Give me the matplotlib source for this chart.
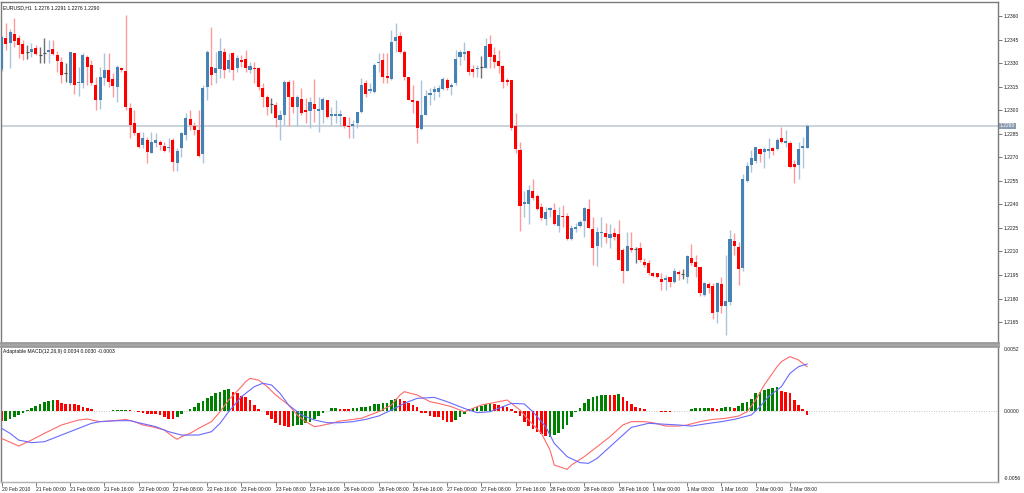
import numpy as np
import matplotlib
matplotlib.use("Agg")
import matplotlib.pyplot as plt

plt.rcParams['font.family'] = ['Liberation Sans', 'DejaVu Sans']

# ---------------- data (EURUSD H1) ----------------
opens = [1.23260,1.23458,1.23426,1.23485,1.23458,1.23422,1.23370,1.23373,1.23398,1.23353,
         1.23362,1.23369,1.23390,1.23352,1.23309,1.23239,1.23171,1.23362,1.23171,1.23171,
         1.23337,1.23288,1.23160,1.23065,1.23203,1.23256,1.23199,1.23147,1.23267,1.23250,
         1.23012,1.22920,1.22853,1.22778,1.22810,1.22730,1.22789,1.22800,1.22774,1.22757,
         1.22810,1.22662,1.22757,1.22842,1.22944,1.22896,1.22874,1.22721,1.23146,1.23277,
         1.23235,1.23262,1.23369,1.23262,1.23362,1.23267,1.23320,1.23324,1.23256,1.23271,
         1.23267,1.23139,1.23086,1.23037,1.23033,1.22937,1.22969,1.23182,1.23086,1.23022,
         1.23071,1.23001,1.22997,1.23040,1.22997,1.23001,1.23065,1.22963,1.22963,1.22963,
         1.22955,1.22901,1.22897,1.22919,1.22990,1.23171,1.23122,1.23118,1.23299,1.23320,
         1.23218,1.23197,1.23443,1.23475,1.23373,1.23210,1.23063,1.23060,1.22878,1.22969,
         1.23097,1.23118,1.23118,1.23133,1.23192,1.23150,1.23171,1.23337,1.23358,1.23379,
         1.23260,1.23260,1.23277,1.23267,1.23422,1.23352,1.23313,1.23281,1.23192,1.23192,
         1.22899,1.22746,1.22402,1.22402,1.22485,1.22453,1.22385,1.22305,1.22364,1.22364,
         1.22262,1.22328,1.22326,1.22178,1.22243,1.22264,1.22296,1.22368,1.22243,1.22135,
         1.22216,1.22216,1.22188,1.22216,1.22210,1.22109,1.21978,1.22124,1.22116,1.22124,
         1.22035,1.22029,1.21961,1.21961,1.21925,1.21918,1.21935,1.21908,1.21967,1.21955,
         1.21939,1.22056,1.22035,1.21999,1.21823,1.21893,1.21880,1.21716,1.21893,1.21753,
         1.21781,1.22167,1.22127,1.21993,1.22551,1.22651,1.22676,1.22753,1.22732,1.22742,
         1.22761,1.22753,1.22821,1.22790,1.22793,1.22655,1.22651,1.22761,1.22760]
highs = [1.23470,1.23557,1.23515,1.23585,1.23479,1.23447,1.23415,1.23426,1.23415,1.23404,
         1.23458,1.23447,1.23447,1.23377,1.23341,1.23299,1.23373,1.23366,1.23277,1.23362,
         1.23352,1.23320,1.23209,1.23277,1.23366,1.23362,1.23235,1.23288,1.23277,1.23606,
         1.23044,1.23001,1.22863,1.22863,1.22831,1.22863,1.22853,1.22810,1.22800,1.22820,
         1.22820,1.22757,1.22863,1.22980,1.23001,1.22927,1.23001,1.23160,1.23383,1.23532,
         1.23373,1.23458,1.23394,1.23362,1.23373,1.23352,1.23352,1.23383,1.23309,1.23309,
         1.23277,1.23171,1.23097,1.23076,1.23054,1.23001,1.23192,1.23192,1.23192,1.23097,
         1.23141,1.23076,1.23086,1.23199,1.23086,1.23086,1.23065,1.23022,1.23065,1.23001,
         1.22959,1.22959,1.22937,1.22990,1.23203,1.23192,1.23171,1.23299,1.23362,1.23362,
         1.23362,1.23511,1.23557,1.23500,1.23383,1.23213,1.23160,1.23065,1.23192,1.23129,
         1.23140,1.23154,1.23160,1.23210,1.23203,1.23171,1.23383,1.23383,1.23436,1.23379,
         1.23288,1.23288,1.23347,1.23458,1.23479,1.23404,1.23383,1.23288,1.23203,1.23192,
         1.22980,1.22800,1.22487,1.22523,1.22561,1.22464,1.22407,1.22385,1.22381,1.22407,
         1.22385,1.22396,1.22343,1.22269,1.22280,1.22300,1.22385,1.22434,1.22318,1.22258,
         1.22318,1.22280,1.22275,1.22248,1.22300,1.22120,1.22226,1.22226,1.22130,1.22163,
         1.22056,1.22046,1.21971,1.21965,1.21961,1.21950,1.21940,1.21993,1.21982,1.21986,
         1.22077,1.22148,1.22077,1.22003,1.21907,1.21907,1.21901,1.21907,1.21940,1.22077,
         1.22237,1.22216,1.22163,1.22593,1.22672,1.22746,1.22768,1.22757,1.22768,1.22821,
         1.22768,1.22821,1.22891,1.22874,1.22806,1.22683,1.22800,1.22831,1.22910]
lows = [1.23250,1.23383,1.23267,1.23404,1.23332,1.23320,1.23326,1.23341,1.23352,1.23299,
        1.23299,1.23299,1.23352,1.23245,1.23171,1.23182,1.23160,1.23101,1.23090,1.23140,
        1.23160,1.23160,1.23001,1.23005,1.23160,1.23146,1.23086,1.23054,1.23245,1.23001,
        1.22820,1.22842,1.22757,1.22757,1.22662,1.22725,1.22767,1.22746,1.22736,1.22736,
        1.22615,1.22615,1.22704,1.22810,1.22874,1.22842,1.22704,1.22662,1.23065,1.23160,
        1.23171,1.23203,1.23203,1.23245,1.23192,1.23245,1.23277,1.23245,1.23235,1.23171,
        1.23129,1.23022,1.22969,1.22980,1.22891,1.22810,1.22906,1.22900,1.22980,1.22900,
        1.22969,1.22919,1.22885,1.22927,1.22863,1.22919,1.22948,1.22906,1.22919,1.22900,
        1.22885,1.22820,1.22820,1.22885,1.22980,1.23086,1.23108,1.23108,1.23245,1.23171,
        1.23171,1.23192,1.23373,1.23362,1.23192,1.23065,1.22980,1.22789,1.22874,1.22969,
        1.23033,1.23065,1.23086,1.23129,1.23129,1.23097,1.23160,1.23288,1.23320,1.23224,
        1.23213,1.23213,1.23203,1.23267,1.23267,1.23267,1.23235,1.23140,1.23160,1.22874,
        1.22725,1.22233,1.22321,1.22275,1.22428,1.22364,1.22300,1.22269,1.22321,1.22269,
        1.22226,1.22258,1.22173,1.22173,1.22226,1.22258,1.22194,1.22248,1.22014,1.22008,
        1.22131,1.22152,1.22120,1.22173,1.22046,1.21897,1.21978,1.22099,1.22025,1.22035,
        1.22003,1.21950,1.21940,1.21929,1.21854,1.21854,1.21876,1.21901,1.21918,1.21922,
        1.21897,1.22014,1.21940,1.21816,1.21816,1.21834,1.21668,1.21646,1.21706,1.21568,
        1.21759,1.22077,1.21886,1.21978,1.22545,1.22608,1.22662,1.22672,1.22630,1.22694,
        1.22715,1.22746,1.22789,1.22767,1.22630,1.22534,1.22560,1.22630,1.22760]
closes = [1.23464,1.23420,1.23496,1.23443,1.23415,1.23358,1.23370,1.23392,1.23356,1.23353,
          1.23362,1.23383,1.23358,1.23315,1.23224,1.23239,1.23369,1.23160,1.23182,1.23352,
          1.23277,1.23171,1.23065,1.23213,1.23256,1.23182,1.23154,1.23277,1.23256,1.23018,
          1.22906,1.22853,1.22767,1.22820,1.22736,1.22800,1.22810,1.22778,1.22742,1.22767,
          1.22672,1.22742,1.22853,1.22948,1.22906,1.22875,1.22708,1.23139,1.23373,1.23224,
          1.23267,1.23379,1.23256,1.23320,1.23256,1.23330,1.23309,1.23267,1.23281,1.23260,
          1.23150,1.23082,1.23022,1.23037,1.22948,1.22969,1.23182,1.23086,1.23018,1.23086,
          1.22984,1.22986,1.23050,1.23008,1.23008,1.23070,1.22955,1.22974,1.22974,1.22974,
          1.22900,1.22891,1.22912,1.22987,1.23160,1.23103,1.23133,1.23288,1.23309,1.23210,
          1.23203,1.23436,1.23468,1.23373,1.23213,1.23065,1.23052,1.22888,1.22969,1.23090,
          1.23108,1.23133,1.23143,1.23199,1.23139,1.23160,1.23326,1.23373,1.23369,1.23245,
          1.23245,1.23271,1.23277,1.23409,1.23337,1.23309,1.23283,1.23178,1.23178,1.22888,
          1.22751,1.22390,1.22417,1.22492,1.22439,1.22370,1.22311,1.22353,1.22375,1.22275,
          1.22332,1.22317,1.22178,1.22252,1.22258,1.22290,1.22375,1.22251,1.22124,1.22222,
          1.22222,1.22195,1.22210,1.22195,1.22046,1.21978,1.22137,1.22109,1.22116,1.22046,
          1.22014,1.21965,1.21946,1.21935,1.21908,1.21929,1.21908,1.21978,1.21957,1.21955,
          1.22071,1.22024,1.21999,1.21833,1.21897,1.21865,1.21706,1.21897,1.21753,1.21785,
          1.22177,1.22135,1.21987,1.22561,1.22645,1.22693,1.22764,1.22721,1.22753,1.22753,
          1.22740,1.22810,1.22800,1.22804,1.22640,1.22640,1.22753,1.22774,1.22900]

hist = [-0.00081,-0.00080,-0.00070,-0.00053,-0.00033,-0.00014,0.00008,0.00022,0.00042,0.00059,
        0.00075,0.00086,0.00089,0.00088,0.00064,0.00059,0.00058,0.00056,0.00047,0.00036,
        0.00025,0.00014,0.00003,0.00002,0.00002,0.00003,0.00005,0.00006,0.00008,0.00011,
        0.00008,0.00003,-0.00008,-0.00020,-0.00022,-0.00025,-0.00026,-0.00033,-0.00047,-0.00064,
        -0.00070,-0.00047,-0.00025,-0.00003,0.00014,0.00036,0.00064,0.00086,0.00106,0.00126,
        0.00148,0.00162,0.00176,0.00184,0.00162,0.00148,0.00126,0.00114,0.00092,0.00050,
        0.00014,-0.00003,-0.00033,-0.00070,-0.00103,-0.00120,-0.00126,-0.00131,-0.00126,-0.00117,
        -0.00116,-0.00103,-0.00089,-0.00070,-0.00042,-0.00020,0.00002,0.00022,0.00023,0.00020,
        0.00019,0.00018,0.00022,0.00028,0.00033,0.00036,0.00045,0.00056,0.00059,0.00064,
        0.00070,0.00092,0.00098,0.00097,0.00084,0.00064,0.00047,0.00036,-0.00014,-0.00020,
        -0.00042,-0.00047,-0.00053,-0.00075,-0.00089,-0.00090,-0.00075,-0.00053,-0.00025,0.00014,
        0.00022,0.00036,0.00042,0.00059,0.00064,0.00059,0.00050,0.00045,0.00031,0.00014,
        -0.00020,-0.00042,-0.00089,-0.00126,-0.00153,-0.00173,-0.00193,-0.00212,-0.00215,-0.00201,
        -0.00187,-0.00153,-0.00117,-0.00053,-0.00006,0.00022,0.00064,0.00098,0.00114,0.00126,
        0.00131,0.00134,0.00133,0.00132,0.00142,0.00114,0.00086,0.00059,0.00036,0.00022,
        0.00014,0.00003,-0.00001,-0.00004,-0.00006,-0.00009,-0.00010,0.00001,0.00001,0.00001,
        0.00003,0.00020,0.00022,0.00023,0.00025,0.00026,0.00022,0.00020,0.00028,0.00030,
        0.00031,0.00025,0.00042,0.00064,0.00078,0.00098,0.00148,0.00162,0.00176,0.00181,
        0.00190,0.00198,0.00170,0.00162,0.00148,0.00092,0.00050,0.00014,-0.00033]
# colour runs of the histogram: g = rising (green), r = falling (red)
hist_runs = [("r",1),("g",12),("r",12),("g",5),("r",11),("g",13),("r",14),("g",11),("r",3),
             ("g",11),("r",13),("g",9),("r",13),("g",14),("r",2),("g",1),("r",12),("g",9),
             ("r",2),("g",3),("r",1),("g",10),("r",7)]

macd_bar = [0,4,7,10,14,18,20,21,23,25,28,29,31,33,35,38,40,41,42,44,46,49,51,53,56,57,58,60,
            62,64,67,69,71,73,74,77,79,81,84,86,88,91,93,94,97,100,102,105,108,112,116,118,119,
            121,123,126,128,129,132,133,136,139,142,145,147,150,152,155,158,160,163,166,169,172,
            174,176,178,181,182,184,186,188]
macd_val = [-0.00229,-0.00293,-0.00243,-0.00187,-0.00117,-0.00075,-0.00067,-0.00075,-0.00089,
            -0.00084,-0.00075,-0.00070,-0.00089,-0.00117,-0.00131,-0.00159,-0.00215,-0.00237,
            -0.00215,-0.00187,-0.00145,-0.00089,-0.00006,0.00092,0.00204,0.00246,0.00273,0.00259,
            0.00204,0.00134,0.00050,-0.00033,-0.00089,-0.00131,-0.00126,-0.00103,-0.00084,-0.00075,
            -0.00061,-0.00033,-0.00006,0.00050,0.00134,0.00162,0.00134,0.00078,0.00064,0.00036,
            -0.00006,0.00050,0.00078,0.00092,0.00064,0.00008,-0.00075,-0.00187,-0.00326,-0.00452,
            -0.00488,-0.00452,-0.00382,-0.00299,-0.00215,-0.00117,-0.00089,-0.00089,-0.00098,
            -0.00126,-0.00126,-0.00117,-0.00089,-0.00070,-0.00061,-0.00042,-0.00006,0.00092,
            0.00218,0.00371,0.00413,0.00455,0.00427,0.00371]
signal_bar = [0,2,4,7,10,13,18,21,23,27,30,32,36,39,42,46,49,51,53,56,59,61,63,65,67,70,73,76,
              79,82,85,88,91,94,97,101,104,108,111,114,117,119,122,124,127,129,132,135,137,139,
              142,145,147,151,154,158,161,164,168,171,175,177,179,182,184,186,188]
signal_val = [-0.00145,-0.00187,-0.00243,-0.00265,-0.00257,-0.00215,-0.00145,-0.00103,-0.00089,
              -0.00081,-0.00081,-0.00098,-0.00131,-0.00173,-0.00201,-0.00201,-0.00173,-0.00103,
              -0.00006,0.00120,0.00204,0.00232,0.00218,0.00148,0.00050,-0.00033,-0.00075,-0.00098,
              -0.00098,-0.00089,-0.00070,-0.00042,0.00008,0.00064,0.00106,0.00114,0.00078,0.00022,
              -0.00014,-0.00006,0.00036,0.00064,0.00059,-0.00006,-0.00131,-0.00271,-0.00382,
              -0.00432,-0.00438,-0.00396,-0.00299,-0.00201,-0.00137,-0.00103,-0.00109,-0.00117,
              -0.00126,-0.00109,-0.00089,-0.00070,-0.00033,0.00036,0.00120,0.00204,0.00315,
              0.00371,0.00393]

date_labels = ["20 Feb 2010","21 Feb 00:00","21 Feb 08:00","21 Feb 16:00","22 Feb 00:00",
               "22 Feb 08:00","22 Feb 16:00","23 Feb 00:00","23 Feb 08:00","23 Feb 16:00",
               "26 Feb 00:00","26 Feb 08:00","26 Feb 16:00","27 Feb 00:00","27 Feb 08:00",
               "27 Feb 16:00","28 Feb 00:00","28 Feb 08:00","28 Feb 16:00","1 Mar 00:00",
               "1 Mar 08:00","1 Mar 16:00","2 Mar 00:00","2 Mar 08:00"]
label_every = 8
price_levels = [1.2360,1.2345,1.2330,1.2315,1.2300,1.2285,1.2270,1.2255,1.2240,1.2225,
                1.2210,1.2195,1.2180,1.2165]
last_price = 1.2290
macd_levels = [0.0052, 0.0, -0.0056]
header = "EURUSD,H1  1.2276 1.2291 1.2276 1.2290"
ind_header = "Adaptable MACD(12,26,9) 0.0034 0.0030 -0.0003"

# ---------------- figure ----------------
W, H = 1024, 493
fig = plt.figure(figsize=(W / 100, H / 100), dpi=100)
fig.patch.set_facecolor("white")

def box(x0, y0, x1, y1):
    return [x0 / W, 1 - y1 / H, (x1 - x0) / W, (y1 - y0) / H]

ax = fig.add_axes(box(1, 2, 998, 343))
ax2 = fig.add_axes(box(1, 346, 998, 482), sharex=ax)

o = np.array(opens); h = np.array(highs); l = np.array(lows); c = np.array(closes)
n = len(o)
xs = np.arange(n)
up = c > o
dn = c < o
dj = c == o

FS = 3.6
BLUE = "#4682B4"; RED = "#FF0000"
# wicks
ax.vlines(xs[up], l[up], h[up], colors="#a9c4dc", lw=1.0, zorder=2)
ax.vlines(xs[dn], l[dn], h[dn], colors="#ff9a9a", lw=1.0, zorder=2)
ax.vlines(xs[dj], l[dj], h[dj], colors="#707070", lw=1.0, zorder=2)
# bodies
bw = 0.72
minh = 0.00004
ax.bar(xs[up], np.maximum(c[up] - o[up], minh), bottom=o[up], width=bw, color=BLUE,
       linewidth=0, zorder=3)
ax.bar(xs[dn], np.maximum(o[dn] - c[dn], minh), bottom=c[dn], width=bw, color=RED,
       linewidth=0, zorder=3)
ax.hlines(o[dj], xs[dj] - bw / 2, xs[dj] + bw / 2, colors="#505050", lw=0.8, zorder=3)

ax.axhline(last_price, color="#bcc6d2", lw=1.1, zorder=1)

xl = (-0.117, 232.55)
ax.set_xlim(*xl)
ax.set_ylim(1.21517, 1.23689)

# price axis
ax.yaxis.tick_right()
ax.set_yticks(price_levels)
ax.set_yticklabels([f"{v:.4f}" for v in price_levels], fontsize=FS)
ax.tick_params(axis="y", direction="out", length=3, width=0.6, color="#606060", pad=1.2,
               labelcolor="#202020")
ax.tick_params(axis="x", bottom=False, labelbottom=False)
ax.text(1.0015, last_price, f"{last_price:.4f}", transform=ax.get_yaxis_transform(),
        fontsize=FS, color="white", va="center", ha="left",
        bbox=dict(boxstyle="square,pad=0.15", fc="#8a9bb0", ec="none"))

for sp in ax.spines.values():
    sp.set_color("#7a7a7a"); sp.set_linewidth(1.0)
ax.spines["bottom"].set_color("#9a9a9a"); ax.spines["bottom"].set_linewidth(2.0)

fig.text(3 / W, 1 - 7.5 / H, header, fontsize=FS, va="center", ha="left", color="#101010")

# ---------------- MACD panel ----------------
cols = []
for ch, k in hist_runs:
    cols += [("#008000" if ch == "g" else RED)] * k
hv = np.array(hist)
ax2.axhline(0, color="#b0b0b0", lw=0.6, ls=(0, (1, 2)), zorder=1)
ax2.bar(xs, hv, width=0.62, color=cols, linewidth=0, zorder=2)
ax2.plot(macd_bar, macd_val, color="#ff6a6a", lw=0.8, zorder=3)
ax2.plot(signal_bar, signal_val, color="#6a6aff", lw=0.8, zorder=3)
ax2.set_ylim(-0.00594, 0.00544)
ax2.set_xlim(*xl)
ax2.yaxis.tick_right()
ax2.set_yticks(macd_levels)
ax2.set_yticklabels([f"{v:.4f}" for v in macd_levels], fontsize=FS)
ax2.tick_params(axis="y", direction="out", length=0, pad=4, labelcolor="#202020")
pos = list(range(0, n, label_every))[:len(date_labels)]
ax2.set_xticks(pos)
ax2.set_xticklabels(date_labels, fontsize=FS, ha="left", color="#202020")
ax2.tick_params(axis="x", direction="out", length=3, width=0.6, color="#606060", pad=0.8)
for lab in ax2.get_xticklabels():
    lab.set_x(lab.get_position()[0])
for sp in ax2.spines.values():
    sp.set_color("#7a7a7a"); sp.set_linewidth(1.0)
ax2.spines["top"].set_color("#9a9a9a"); ax2.spines["top"].set_linewidth(2.0)
ax2.spines["bottom"].set_color("#b0b0b0")

fig.text(3 / W, 1 - 351 / H, ind_header, fontsize=FS, va="center", ha="left", color="#101010")

fig.savefig("out.png", dpi=100, facecolor="white")
